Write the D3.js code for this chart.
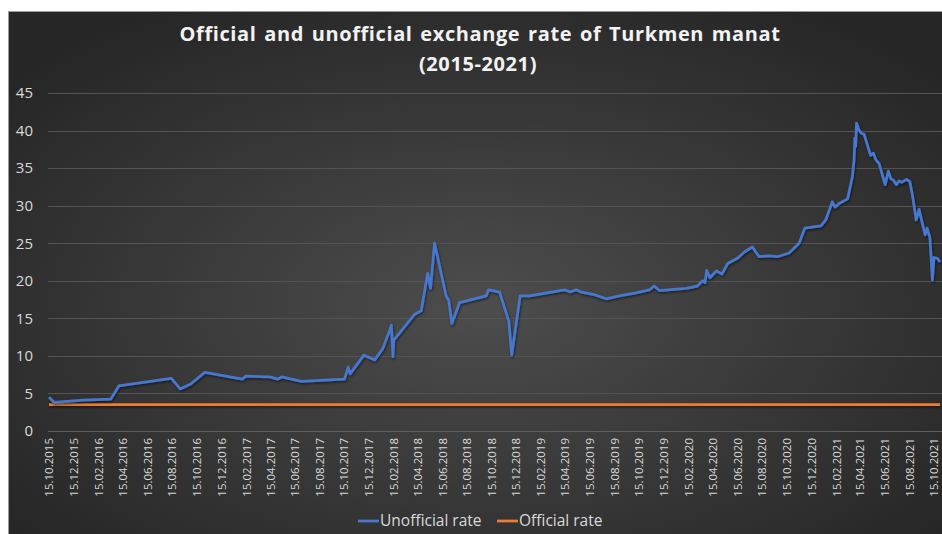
<!DOCTYPE html>
<html lang="en">
<head>
  <meta charset="UTF-8">
  <title>Official and unofficial exchange rate of Turkmen manat</title>
  <style>
    body {
      margin: 0;
      padding: 0;
      background-color: #ffffff;
      font-family: "Open Sans", Arial, sans-serif;
    }
    svg { display: block; }
  </style>
  <script src="https://d3js.org/d3.v7.min.js"></script>
</head>
<body>
  <div id="chart"></div>

  <script>
    // Unofficial (black market) rate, manat per USD
    const unofficialDates = [
      "15.10.2015", "28.10.2015", "08.01.2016", "16.03.2016", "05.04.2016", "13.08.2016",
      "04.09.2016", "30.09.2016", "04.11.2016", "05.02.2017", "13.02.2017", "14.04.2017",
      "04.05.2017", "13.05.2017", "01.07.2017", "16.10.2017", "25.10.2017", "30.10.2017",
      "03.12.2017", "30.12.2017", "19.01.2018", "05.02.2018", "09.02.2018", "13.02.2018",
      "15.02.2018", "07.04.2018", "24.04.2018", "10.05.2018", "17.05.2018", "27.05.2018",
      "25.06.2018", "01.07.2018", "09.07.2018", "28.07.2018", "02.10.2018", "08.10.2018",
      "04.11.2018", "27.11.2018", "04.12.2018", "25.12.2018", "17.01.2019", "14.04.2019",
      "28.04.2019", "13.05.2019", "25.05.2019", "23.06.2019", "26.07.2019", "28.08.2019",
      "08.10.2019", "10.11.2019", "22.11.2019", "05.12.2019", "09.02.2020", "08.03.2020",
      "21.03.2020", "27.03.2020", "31.03.2020", "08.04.2020", "24.04.2020", "08.05.2020",
      "22.05.2020", "15.06.2020", "04.07.2020", "22.07.2020", "08.08.2020", "02.09.2020",
      "22.09.2020", "21.10.2020", "15.11.2020", "29.11.2020", "08.01.2021", "20.01.2021",
      "05.02.2021", "12.02.2021", "22.02.2021", "15.03.2021", "27.03.2021", "31.03.2021",
      "02.04.2021", "04.04.2021", "06.04.2021", "12.04.2021", "19.04.2021", "25.04.2021",
      "11.05.2021", "18.05.2021", "24.05.2021", "01.06.2021", "16.06.2021", "24.06.2021",
      "30.06.2021", "06.07.2021", "14.07.2021", "20.07.2021", "27.07.2021", "02.08.2021",
      "08.08.2021", "16.08.2021", "22.08.2021", "01.09.2021", "08.09.2021", "23.09.2021",
      "28.09.2021", "05.10.2021", "11.10.2021", "15.10.2021", "23.10.2021", "30.10.2021"
    ];
    const unofficialValues = [
      4.5, 3.8, 4.1, 4.25, 6.0, 7.0,
      5.6, 6.25, 7.8, 6.9, 7.3, 7.2,
      6.9, 7.2, 6.6, 6.9, 8.5, 7.6,
      10.1, 9.45, 11.0, 13.4, 14.1, 9.9,
      12.1, 15.5, 16.0, 21.0, 19.0, 25.0,
      17.9, 17.4, 14.3, 17.1, 18.0, 18.8,
      18.5, 14.6, 10.1, 18.0, 18.0, 18.8,
      18.5, 18.8, 18.5, 18.2, 17.6, 18.0,
      18.4, 18.8, 19.3, 18.7, 19.0, 19.3,
      20.0, 19.75, 21.4, 20.4, 21.3, 20.9,
      22.3, 23.0, 23.9, 24.5, 23.2, 23.3,
      23.2, 23.7, 25.0, 27.0, 27.3, 28.1,
      30.5, 29.8, 30.3, 30.9, 33.9, 36.1,
      39.0, 37.9, 41.0, 40.1, 39.6, 39.5,
      36.7, 37.0, 36.1, 35.6, 32.8, 34.6,
      33.6, 33.4, 32.8, 33.3, 33.1, 33.3,
      33.5, 33.2, 31.6, 28.1, 29.5, 26.1,
      27.0, 25.7, 20.1, 23.1, 23.0, 22.5
    ];

    // Official rate (fixed)
    const officialDates = ["15.10.2015", "30.10.2021"];
    const officialValues = [3.5, 3.5];

    const yTicks = [0, 5, 10, 15, 20, 25, 30, 35, 40, 45];
    const xTickLabels = [
      "15.10.2015", "15.12.2015", "15.02.2016", "15.04.2016", "15.06.2016", "15.08.2016",
      "15.10.2016", "15.12.2016", "15.02.2017", "15.04.2017", "15.06.2017", "15.08.2017",
      "15.10.2017", "15.12.2017", "15.02.2018", "15.04.2018", "15.06.2018", "15.08.2018",
      "15.10.2018", "15.12.2018", "15.02.2019", "15.04.2019", "15.06.2019", "15.08.2019",
      "15.10.2019", "15.12.2019", "15.02.2020", "15.04.2020", "15.06.2020", "15.08.2020",
      "15.10.2020", "15.12.2020", "15.02.2021", "15.04.2021", "15.06.2021", "15.08.2021",
      "15.10.2021"
    ];

    const width = 942;
    const height = 534;
    const parse = d3.timeParse("%d.%m.%Y");

    const svg = d3.select("#chart")
      .append("svg")
      .attr("width", width)
      .attr("height", height);

    // dark radial background like the Excel style
    const defs = svg.append("defs");
    const grad = defs.append("radialGradient")
      .attr("id", "bg")
      .attr("cx", "50%").attr("cy", "55%").attr("r", "65%");
    grad.append("stop").attr("offset", "0%").attr("stop-color", "#4d4d4d");
    grad.append("stop").attr("offset", "100%").attr("stop-color", "#262626");

    // user space region, so the flat official line keeps its shadow
    const shadow = defs.append("filter").attr("id", "shadow")
      .attr("filterUnits", "userSpaceOnUse")
      .attr("x", 0).attr("y", 0).attr("width", width).attr("height", height);
    shadow.append("feDropShadow")
      .attr("dx", 0.8).attr("dy", 1.5).attr("stdDeviation", 1)
      .attr("flood-color", "#000").attr("flood-opacity", 0.55);

    svg.append("rect")
      .attr("x", 8.5)
      .attr("y", 11.5)
      .attr("width", width)
      .attr("height", height)
      .attr("fill", "url(#bg)")
      .attr("stroke", "#9a9a9a")
      .attr("stroke-width", 1);

    const x = d3.scaleTime()
      .domain([parse("15.10.2015"), parse("15.10.2021")])
      .range([49, 934]);

    const y = d3.scaleLinear()
      .domain([0, 45])
      .range([431, 93]);

    // gridlines
    svg.append("g")
      .selectAll("line")
      .data(yTicks)
      .join("line")
      .attr("x1", 48)
      .attr("x2", width)
      .attr("y1", d => Math.round(y(d)) + 0.5)
      .attr("y2", d => Math.round(y(d)) + 0.5)
      .attr("stroke", d => d === 0 ? "#5e5e5e" : "#545454")
      .attr("stroke-width", 1);

    // y axis labels
    const yAxis = svg.append("g")
      .attr("transform", "translate(33,0)")
      .call(d3.axisLeft(y).tickValues(yTicks).tickSize(0).tickPadding(0));
    yAxis.select(".domain").remove();
    yAxis.selectAll("text")
      .attr("fill", "#d9d9d9")
      .style("font-family", "'Open Sans', sans-serif")
      .style("font-size", "15px");

    // x axis labels (rotated)
    const xAxis = svg.append("g")
      .attr("transform", "translate(0,438)")
      .call(d3.axisBottom(x).tickValues(xTickLabels.map(parse))
        .tickFormat(d3.timeFormat("%d.%m.%Y")).tickSize(0).tickPadding(0));
    xAxis.select(".domain").remove();
    xAxis.selectAll("text")
      .attr("fill", "#d9d9d9")
      .attr("transform", "rotate(-90)")
      .attr("text-anchor", "end")
      .attr("x", 0)
      .attr("y", 0)
      .attr("dy", "0.33em")
      .style("font-family", "'Open Sans', sans-serif")
      .style("font-size", "11.5px");

    const line = d3.line()
      .x(d => x(d.date))
      .y(d => y(d.value));

    const official = officialDates.map((d, i) => ({ date: parse(d), value: officialValues[i] }));
    const unofficial = unofficialDates.map((d, i) => ({ date: parse(d), value: unofficialValues[i] }));

    svg.append("path")
      .datum(official)
      .attr("fill", "none")
      .attr("stroke", "#ed7d31")
      .attr("stroke-width", 2.75)
      .attr("filter", "url(#shadow)")
      .attr("d", line);

    svg.append("path")
      .datum(unofficial)
      .attr("fill", "none")
      .attr("stroke", "#4778d0")
      .attr("stroke-width", 2.75)
      .attr("stroke-linejoin", "round")
      .attr("filter", "url(#shadow)")
      .attr("d", line);

    // title
    const title = svg.append("text")
      .attr("x", 480)
      .attr("text-anchor", "middle")
      .attr("fill", "#f2f2f2")
      .style("font-family", "'Open Sans', sans-serif")
      .style("font-weight", "bold")
      .style("font-size", "20px")
      .style("letter-spacing", "0.6px")
      .style("word-spacing", "2px");
    title.append("tspan").attr("x", 480).attr("y", 41)
      .text("Official and unofficial exchange rate of Turkmen manat");
    title.append("tspan").attr("x", 478).attr("y", 71)
      .text("(2015-2021)");

    // legend
    const legendItems = [
      { name: "Unofficial rate", color: "#4778d0", x: 358 },
      { name: "Official rate", color: "#ed7d31", x: 497 }
    ];
    const legend = svg.append("g")
      .selectAll("g")
      .data(legendItems)
      .join("g")
      .attr("transform", d => `translate(${d.x},521)`);
    legend.append("line")
      .attr("x1", 0).attr("x2", 21)
      .attr("stroke", d => d.color)
      .attr("stroke-width", 2.75);
    legend.append("text")
      .attr("x", 22)
      .attr("dy", "0.35em")
      .attr("fill", "#d9d9d9")
      .style("font-family", "'Open Sans', sans-serif")
      .style("font-size", "15.5px")
      .text(d => d.name);
  </script>
</body>
</html>
